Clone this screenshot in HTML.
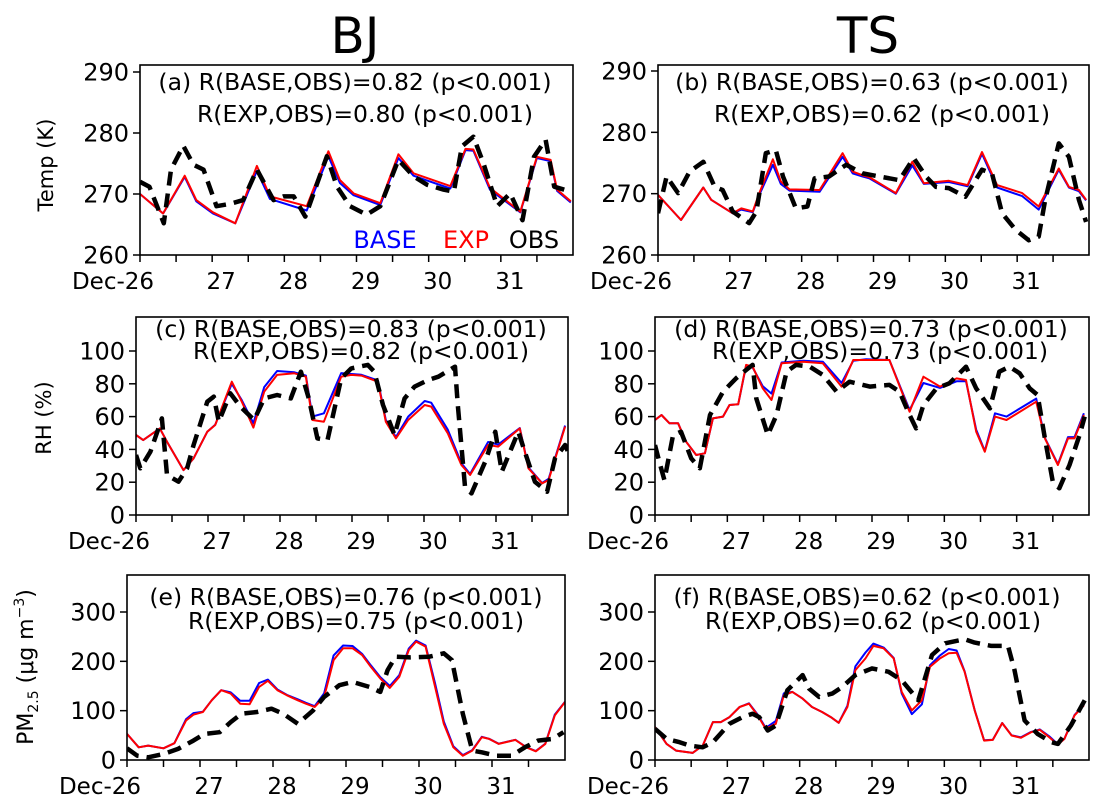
<!DOCTYPE html>
<html><head><meta charset="utf-8"><style>
html,body{margin:0;padding:0;background:#fff}
svg{display:block;font-family:"DejaVu Sans","Liberation Sans",sans-serif}
</style></head><body>
<svg id="fig" width="1102" height="803" viewBox="0 0 1102 803" xmlns="http://www.w3.org/2000/svg">
<text x="355" y="53" font-size="50" text-anchor="middle">BJ</text>
<text x="868" y="53" font-size="50" text-anchor="middle">TS</text>
<text transform="translate(53,165) rotate(-90)" font-size="21" text-anchor="middle">Temp (K)</text>
<text transform="translate(51,418) rotate(-90)" font-size="21" text-anchor="middle">RH (%)</text>
<text transform="translate(33,667) rotate(-90)" font-size="22" text-anchor="middle">PM<tspan font-size="14" dy="5">2.5</tspan><tspan dy="-5"> (μg m</tspan><tspan font-size="14" dy="-9">−3</tspan><tspan dy="9">)</tspan></text>
<g id="plots"></g>
</svg>
<script>
const xTickLabels = ["Dec-26","27","28","29","30","31"];
// Panel (a) BJ temperature
const aModT = [0,.32,.62,.78,1.01,1.32,1.62,1.8,2.31,2.61,2.77,2.96,3.33,3.58,3.79,3.98,4.3,4.51,4.62,4.85,5.27,5.5,5.69,5.78,5.97];
const aExp = [270,266.8,273,269,267,265.2,274.6,269.6,268,277,272.3,270.1,268.5,276.5,273.4,272.6,271.3,277.4,277.3,271,267.1,276.1,275.6,270.7,268.8];
const aBase = [270,266.8,272.8,268.8,266.8,265.2,273.8,269.2,267.3,276.2,271.8,269.8,268.2,275.9,273,272.2,270.9,277.2,277.1,270.7,267,275.9,275.4,270.5,268.6];
const aObsT = [0,.13,.33,.43,.6,.74,.88,1.06,1.25,1.43,1.62,1.85,1.99,2.13,2.29,2.59,2.73,2.91,3.14,3.33,3.58,3.79,3.98,4.21,4.35,4.46,4.62,4.76,4.95,5.13,5.3,5.46,5.62,5.74,5.97];
const aObs = [272,271.2,265.2,274,277.9,274.8,274,268,268.4,269,274,269,269.6,269.6,266.3,276.2,271.2,268,266.6,268,275.6,272.9,271.5,270.7,270.4,277.8,279.4,275,268,270.1,265.7,276.1,278.9,271.2,270.4];
// Panel (b) TS temperature
const bModT = [0,.32,.63,.74,1.04,1.16,1.32,1.41,1.6,1.71,1.83,2.25,2.57,2.71,2.85,2.94,3.31,3.54,3.7,4.05,4.31,4.51,4.72,5.07,5.3,5.58,5.72,5.86,5.96];
const bExp = [269.8,265.7,271,269,266.8,267.6,267.1,270.1,275.6,272,270.7,270.6,276.6,273.6,273,272.7,270.1,275.2,271.7,272.1,271.4,276.8,271.4,270.1,267.9,274.1,271.1,270.6,269];
const bBase = [269.8,265.7,271,269,266.8,267.4,267,269.8,274.7,271.6,270.5,270.3,276,273.3,272.8,272.5,270,274.6,271.6,271.9,271.2,276.5,271,269.6,267.4,273.9,271,270.4,268.9];
const bObsT = [0,.12,.28,.44,.63,.79,.9,1.04,1.27,1.37,1.5,1.64,1.74,1.92,2.08,2.18,2.38,2.62,2.85,3.13,3.36,3.56,3.73,3.87,4.05,4.28,4.51,4.65,4.79,4.98,5.16,5.3,5.39,5.58,5.72,5.86,5.96];
const bObs = [266.8,272.8,270.1,273.6,275.2,271.1,270.6,267.1,265.2,267.1,276.6,277.1,272.8,267.6,267.9,272.5,272.8,274.7,273.3,272.7,272.2,275.8,272.8,271.1,270.9,269.5,273.9,273.3,266.8,264.1,262.4,263,269,278.2,276,269,265.4];
// Panel (c) BJ RH
const cModT = [0,.1,.33,.43,.66,.8,.99,1.1,1.33,1.47,1.63,1.78,1.96,2.2,2.36,2.45,2.61,2.85,2.99,3.13,3.36,3.47,3.61,3.78,4.01,4.1,4.33,4.52,4.64,4.89,5.03,5.33,5.45,5.64,5.73,5.96];
const cExp = [48.8,45.7,52.8,44.7,27.4,34.6,50.8,54.9,81.3,69.1,53.3,75.2,85.4,86.4,84.3,57.9,56.9,84.3,85.4,85,81.3,56.9,46.7,57.9,67.1,66.1,49.8,30.5,24.4,42.7,41.7,52.8,28.5,19.3,21.3,53.9];
const cBase = [48.8,45.7,52.8,44.7,27.4,34.6,50.8,55,80,70,56,78,87.8,87,85,60,62,86.5,86,85.5,82,58,47.5,60,69.5,68.5,52,31.5,25,44.5,43,53,29,19.5,22,54.5];
const cObsT = [0,.06,.2,.36,.43,.59,.71,.8,.99,1.08,1.15,1.31,1.45,1.64,1.78,1.96,2.15,2.29,2.4,2.52,2.66,2.85,2.99,3.22,3.31,3.43,3.59,3.73,3.87,4.06,4.2,4.43,4.47,4.57,4.66,4.85,4.99,5.08,5.31,5.4,5.54,5.71,5.82,5.96,6.0];
const cObs = [36.6,28.5,38.6,58.9,24.4,20.3,28.5,42.7,69.1,72.2,56.9,74.2,66.1,57.9,71.1,73.2,71.1,87.4,71.1,46.7,45.7,83.3,89.4,91.5,87.4,67.1,48.8,71.1,78.3,82.3,84.3,90.4,67.1,17.3,13.2,32.5,50.8,26.4,50.8,38.6,20.3,14.2,34.6,42.7,38.6];
// Panel (d) TS RH
const dModT = [0,.09,.2,.32,.43,.57,.69,.8,.94,1.03,1.15,1.26,1.35,1.49,1.61,1.75,2.05,2.32,2.58,2.74,2.92,3.24,3.52,3.71,3.94,4.17,4.3,4.44,4.56,4.7,4.86,5.27,5.39,5.57,5.71,5.8,5.93];
const dExp = [57.9,61,55.9,55.9,44.7,36.6,37.6,58.9,60,67.1,67.5,91.5,90.4,77.2,70.1,92.5,93.5,92.5,78.3,94.5,94.5,94.5,63,84.3,78.3,83.3,82.3,50.8,38.6,60,57.9,69.1,46.7,30.5,46.7,46.7,61];
const dBase = [57.9,61,55.9,55.9,44.7,36.6,37.6,58.9,60,67.1,67.5,91,90,78.5,74,93,94,93.5,80.5,94,95,94.5,64,80.5,77.5,81.5,81.5,52,39,62,60,71,47,31,47.5,47.5,62];
const dObsT = [0,.06,.13,.25,.36,.5,.62,.76,.94,1.12,1.26,1.35,1.4,1.56,1.68,1.82,1.95,2.14,2.32,2.51,2.69,2.97,3.24,3.38,3.52,3.61,3.71,3.89,4.07,4.3,4.44,4.63,4.76,4.9,5.04,5.18,5.29,5.39,5.5,5.59,5.73,5.87,5.94];
const dObs = [42.7,32.5,21.3,48.8,50.8,34.6,28.5,61,75.2,83.3,88.4,91.5,71.1,48.8,61,87.4,91.5,90.4,85.4,75.2,81.3,78.3,79.3,75.2,61,52.8,67.1,77.2,80.3,90.4,77.2,65,87.4,90.4,86.4,77.2,73.2,46.7,20.3,16.3,30.5,48.8,60];
// Panel (e) BJ PM2.5
const eModT = [0,.16,.29,.5,.65,.81,.91,1.04,1.16,1.29,1.42,1.55,1.68,1.81,1.93,2.06,2.19,2.34,2.45,2.57,2.7,2.83,2.96,3.09,3.22,3.34,3.47,3.6,3.73,3.86,3.96,4.09,4.22,4.34,4.47,4.6,4.73,4.86,4.96,5.09,5.32,5.47,5.6,5.73,5.86,6.0];
const eExp = [53,25.8,29.2,23.8,34,80.2,91.8,97.2,121,141.4,134.6,114.2,112.9,148.2,160.5,141.4,131.2,121,114.2,107.4,127.8,202.6,226.4,226.4,212.8,189,165.2,146.2,168.6,223,240,229.8,148.2,73.4,25.8,8.8,19,46.2,42.8,32.6,40.8,25.8,17.7,32.6,90.4,117.6];
const eBase = [53,25.8,29.2,23.8,34,83,95,98,121,141.4,137,120,120,156,163,143,132,123,116,109,135,212,232,231,215,192,168,150,172,226,242,232,155,78,28,10,20,47,43,33,41,26,18,33,92,118];
const eObsT = [0,.14,.29,.5,.7,.91,1.06,1.27,1.42,1.57,1.78,1.98,2.14,2.34,2.55,2.7,2.91,3.09,3.32,3.47,3.57,3.68,3.88,4.14,4.34,4.45,4.6,4.73,4.86,5.06,5.27,5.45,5.63,5.83,5.98];
const eObs = [23.8,8.8,5.4,12.2,22.4,39.4,53,56.4,76.8,93.8,97.2,104,93.8,73.4,100.6,127.8,151.6,158.4,148.2,138,182.2,209.4,208,209.4,216.2,202.6,93.8,19,15.6,8.8,8.8,25.8,39.4,42.8,56.4];
// Panel (f) TS PM2.5
const fModT = [0,.16,.29,.52,.66,.8,.91,1.03,1.17,1.3,1.42,1.53,1.67,1.78,1.9,2.04,2.17,2.31,2.43,2.54,2.66,2.77,2.91,3.02,3.16,3.3,3.41,3.55,3.69,3.8,3.94,4.06,4.17,4.28,4.42,4.55,4.67,4.8,4.93,5.06,5.2,5.32,5.45,5.57,5.66,5.8,5.93];
const fExp = [66.6,32.6,19,14.3,29.2,76.8,76.8,87,107.4,114.2,90.4,63.2,73.4,131.2,138,124.4,107.4,97.2,87,75.5,107.4,182.2,206,231.2,226.4,206,138,100.6,121,189,206,216.2,217.6,178.8,100.6,39.4,40.8,74.8,49.6,44.9,56.4,61.2,46.2,31.3,42.8,90.4,110.8];
const fBase = [66.6,32.6,19,14.3,29.2,76.8,76.8,87,107.4,115,92,65,79,135,138,124.4,107.4,97.2,87,75.5,110,190,218,236,228,207,135,93,113,192,212,225,222,180,101,40,41,75,50,46,57,62,48,32,43,91,112];
const fObsT = [0,.16,.34,.48,.66,.8,1.03,1.21,1.35,1.44,1.56,1.67,1.83,2.04,2.13,2.27,2.45,2.59,2.77,3.0,3.23,3.41,3.64,3.83,4.01,4.28,4.42,4.65,4.88,4.97,5.11,5.29,5.48,5.57,5.75,5.94];
const fObs = [63.2,42.8,36,29.2,25.8,36,73.4,87,93.8,87,59.8,70,141.4,172,144.8,127.8,134.6,148.2,172,185.6,178.8,161.8,121,212.8,236.6,244.8,238,231.2,231.2,182.2,80.2,53,36,32.6,70,121];
const tempTicks = [260,270,280,290];
const rhTicks = [0,20,40,60,80,100];
const pmTicks = [0,100,200,300];

const NS = "http://www.w3.org/2000/svg";
const root = document.getElementById("plots");
function mk(tag, attrs, parent){const e=document.createElementNS(NS,tag);for(const k in attrs)e.setAttribute(k,attrs[k]);(parent||root).appendChild(e);return e;}

const panels = [
 {id:"a",L:140,R:573,T:65,B:255,v0:260,p0:255,v1:290,p1:72,ticks:tempTicks,mt:aModT,exp:aExp,base:aBase,ot:aObsT,obs:aObs,
  l1:"(a) R(BASE,OBS)=0.82 (p<0.001)",l2:"R(EXP,OBS)=0.80 (p<0.001)",x1:355,y1:90,x2:365,y2:122,legend:true},
 {id:"b",L:658,R:1089,T:65,B:255,v0:260,p0:255,v1:290,p1:71,ticks:tempTicks,mt:bModT,exp:bExp,base:bBase,ot:bObsT,obs:bObs,
  l1:"(b) R(BASE,OBS)=0.63 (p<0.001)",l2:"R(EXP,OBS)=0.62 (p<0.001)",x1:872,y1:90,x2:882,y2:122},
 {id:"c",L:136,R:568,T:317,B:515,v0:0,p0:515,v1:100,p1:351,ticks:rhTicks,mt:cModT,exp:cExp,base:cBase,ot:cObsT,obs:cObs,
  l1:"(c) R(BASE,OBS)=0.83 (p<0.001)",l2:"R(EXP,OBS)=0.82 (p<0.001)",x1:351,y1:337,x2:361,y2:359},
 {id:"d",L:655,R:1089,T:317,B:515,v0:0,p0:515,v1:100,p1:351,ticks:rhTicks,mt:dModT,exp:dExp,base:dBase,ot:dObsT,obs:dObs,
  l1:"(d) R(BASE,OBS)=0.73 (p<0.001)",l2:"R(EXP,OBS)=0.73 (p<0.001)",x1:871,y1:337,x2:880,y2:359},
 {id:"e",L:127,R:565,T:575,B:760,v0:0,p0:760,v1:300,p1:612,ticks:pmTicks,mt:eModT,exp:eExp,base:eBase,ot:eObsT,obs:eObs,
  l1:"(e) R(BASE,OBS)=0.76 (p<0.001)",l2:"R(EXP,OBS)=0.75 (p<0.001)",x1:346,y1:605,x2:356,y2:629},
 {id:"f",L:655,R:1089,T:575,B:760,v0:0,p0:760,v1:300,p1:612,ticks:pmTicks,mt:fModT,exp:fExp,base:fBase,ot:fObsT,obs:fObs,
  l1:"(f) R(BASE,OBS)=0.62 (p<0.001)",l2:"R(EXP,OBS)=0.62 (p<0.001)",x1:867,y1:605,x2:873,y2:629}
];

panels.forEach(p=>{
  const g = mk("g",{});
  
  
  const xs = t => p.L + t/6*(p.R-p.L);
  const ys = v => p.p0 + (v-p.v0)/(p.v1-p.v0)*(p.p1-p.p0);
  const cp = mk("clipPath",{id:"clip"+p.id},g);
  mk("rect",{x:p.L,y:p.T,width:p.R-p.L,height:p.B-p.T},cp);
  const lines = mk("g",{"clip-path":"url(#clip"+p.id+")"},g);
  function series(ts, vs, color, w, dash, name){
    const d = ts.map((t,i)=>(i?"L":"M")+xs(t).toFixed(1)+","+ys(vs[i]).toFixed(1)).join(" ");
    const e = mk("path",{d:d,fill:"none",stroke:color,"stroke-width":w,"stroke-linejoin":"round"},lines);
    if(dash) e.setAttribute("stroke-dasharray",dash);
    
    
  }
  series(p.mt, p.base, "#0000ff", 2, null, "base-line-"+p.id);
  series(p.mt, p.exp, "#ff0000", 2, null, "exp-line-"+p.id);
  series(p.ot, p.obs, "#000000", 4.5, "14 8", "obs-line-"+p.id);
  const frame = mk("rect",{x:p.L,y:p.T,width:p.R-p.L,height:p.B-p.T,fill:"none",stroke:"#000","stroke-width":1.6},g);
  
  
  p.ticks.forEach(v=>{
    const y = ys(v);
    mk("line",{x1:p.L-7,x2:p.L,y1:y,y2:y,stroke:"#000","stroke-width":1.5},g);
    const t = mk("text",{x:p.L-11,y:y+8.5,"font-size":24,"text-anchor":"end"},g);
    t.textContent = v;
    
    
  });
  for(let k=0;k<12;k++){
    const x = xs(k/2);
    mk("line",{x1:x,x2:x,y1:p.B,y2:p.B+7,stroke:"#000","stroke-width":1.5},g);
  }
  xTickLabels.forEach((lab,i)=>{
    const off = i===0 ? -27 : 9;
    const t = mk("text",{x:xs(i)+off,y:p.B+34,"font-size":23,"text-anchor":"middle"},g);
    t.textContent = lab;
    
    
  });
  const a1 = mk("text",{x:p.x1,y:p.y1,"font-size":23.5,"text-anchor":"middle"},g);
  a1.textContent = p.l1;
  
  
  const a2 = mk("text",{x:p.x2,y:p.y2,"font-size":23.5,"text-anchor":"middle"},g);
  a2.textContent = p.l2;
  
  
  if(p.legend){
    const items=[["BASE","#0000ff",385],["EXP","#ff0000",466],["OBS","#000000",534]];
    items.forEach(it=>{
      const t = mk("text",{x:it[2],y:248,"font-size":24,"text-anchor":"middle",fill:it[1]},g);
      t.textContent = it[0];
      
      
    });
  }
});
</script>
</body></html>
